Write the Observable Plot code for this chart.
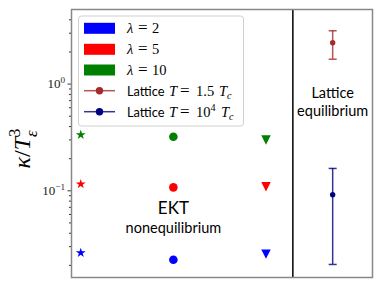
<!DOCTYPE html>
<html><head><meta charset="utf-8">
<script src="https://cdn.jsdelivr.net/npm/d3@7"></script>
<script src="https://cdn.jsdelivr.net/npm/@observablehq/plot@0.6"></script>
<style>
html,body{margin:0;padding:0;background:#fff;}
#chart{position:relative;width:382px;height:287px;}
</style></head><body><div id="chart"></div>
<script>
// ---- data ----
const lambdas = [2, 5, 10];
const lambdaColors = ["#0000ff", "#ff0000", "#008000"];
const markerColumns = [0, 1, 2];               // star, circle, triangle columns
const starValues = [0.0262, 0.1156, 0.335];
const circleValues = [0.0226, 0.1076, 0.321];
const triangleValues = [0.0255, 0.109, 0.299];

const latticeNames = ["T = 1.5 T_c", "T = 10^4 T_c"];
const latticeColors = ["#a52a2a", "#000080"];
const latticeX = 2.72;
const latticeCenter = [2.44, 0.0918];
const latticeLow = [1.71, 0.0204];
const latticeHigh = [3.16, 0.162];

const dividerX = 2.29;
const yMajorTicks = [0.1, 1];
const yTickLabels = ["10^-1", "10^0"];
const yMinorTicks = [0.02,0.03,0.04,0.05,0.06,0.07,0.08,0.09,0.2,0.3,0.4,0.5,0.6,0.7,0.8,0.9,2,3,4];

const ektLabels = ["EKT", "nonequilibrium"];
const ektLabelY = [0.0689, 0.0447];
const ektLabelX = 1.0;
const latLabels = ["Lattice", "equilibrium"];
const latLabelY = [0.823, 0.558];

// ---- tables ----
const stars = lambdas.map((l, i) => ({x: markerColumns[0], y: starValues[i], c: lambdaColors[i]}));
const circles = lambdas.map((l, i) => ({x: markerColumns[1], y: circleValues[i], c: lambdaColors[i]}));
const triangles = lambdas.map((l, i) => ({x: markerColumns[2], y: triangleValues[i], c: lambdaColors[i]}));
const lattice = latticeNames.map((n, i) => ({x: latticeX, y: latticeCenter[i], lo: latticeLow[i], hi: latticeHigh[i], c: latticeColors[i]}));
const caps = lattice.flatMap(d => [{x: d.x, y: d.lo, c: d.c}, {x: d.x, y: d.hi, c: d.c}]);

const triangleDown = {draw(ctx, size) { const k = Math.sqrt(size / Math.PI) * 1.1; ctx.moveTo(-k, -k); ctx.lineTo(k, -k); ctx.lineTo(0, k); ctx.closePath(); }};
const hline = {draw(ctx, size) { const k = Math.sqrt(size / Math.PI); ctx.moveTo(-k, 0); ctx.lineTo(k, 0); }};

const serif = "'Liberation Serif', 'DejaVu Serif', serif";
const sans = "Lato, 'DejaVu Sans', sans-serif";

const chart = Plot.plot({
  width: 382, height: 287,
  marginLeft: 71, marginRight: 10, marginTop: 9, marginBottom: 10,
  x: {domain: [-0.1, 3.15], axis: null},
  y: {type: "log", domain: [0.0154, 5.0], axis: null},
  style: {background: "white", color: "#222"},
  marks: [
    Plot.axisY(yMinorTicks, {tickSize: 2, tickFormat: () => "", stroke: "#333", label: null}),
    Plot.axisY(yMajorTicks, {tickSize: 3.5, tickPadding: 3, tickFormat: d => yTickLabels[yMajorTicks.indexOf(d)], fontSize: 13, fontFamily: serif, stroke: "#333", label: null}),
    Plot.ruleX([dividerX], {stroke: "black", strokeWidth: 1.5}),
    Plot.dot(stars, {x: "x", y: "y", fill: "c", symbol: "star", r: 3.1}),
    Plot.dot(circles, {x: "x", y: "y", fill: "c", r: 4.3}),
    Plot.dot(triangles, {x: "x", y: "y", fill: "c", symbol: triangleDown, r: 4.3}),
    Plot.ruleX(lattice, {x: "x", y1: "lo", y2: "hi", stroke: "c", strokeWidth: 1.5, strokeOpacity: 0.8}),
    Plot.dot(caps, {x: "x", y: "y", stroke: "c", fill: "none", symbol: hline, r: 4, strokeWidth: 1.5, strokeOpacity: 0.8}),
    Plot.dot(lattice, {x: "x", y: "y", fill: "c", r: 2.7}),
    Plot.text([ektLabels[0]], {x: () => ektLabelX, y: () => ektLabelY[0], text: d => d, fontSize: 17, fontFamily: sans, fill: "black"}),
    Plot.text([ektLabels[1]], {x: () => ektLabelX, y: () => ektLabelY[1], text: d => d, fontSize: 14.5, fontFamily: sans, fill: "black"}),
    Plot.text(latLabels, {x: () => latticeX, y: (d, i) => latLabelY[i], text: d => d, fontSize: 14.5, fontFamily: sans, fill: "black"}),
    Plot.text(["κ/T"], {frameAnchor: "left", textAnchor: "middle", dx: -49, dy: 5, rotate: -90, text: d => d, fontSize: 24, fontFamily: serif, fill: "black", className: "ylab"}),
    Plot.frame({stroke: "#888", strokeWidth: 1.5})
  ]
});
document.getElementById("chart").appendChild(chart);

// rich text helper
function rich(sel, parts, base) {
  let off = 0;
  for (const p of parts) {
    const size = (p.sup || p.sub) ? base * 0.7 : base;
    const target = p.sup ? -0.42 * base : p.sub ? (p.subOff || 0.25) * base : 0;
    const ts = sel.append("tspan").attr("dy", target - off).attr("font-size", p.size || size).text(p.t);
    off = target;
    if (p.italic) ts.attr("font-style", "italic");
    ts.attr("font-family", p.font || serif);
    if (p.dx) ts.attr("dx", p.dx);
    if (p.x != null) ts.attr("x", p.x);
  }
}

const svg = d3.select(chart.tagName.toLowerCase() === "svg" ? chart : chart.querySelector("svg"));

// y tick labels with superscripts
svg.selectAll("text").each(function() {
  const s = this.textContent;
  if (/^10\^/.test(s)) {
    const exp = s.split("^")[1].replace("-", "\u2212");
    const t = d3.select(this); t.text("").attr("fill", "#222").attr("stroke", "none");
    rich(t, [{t: "10"}, {t: exp, sup: true}], 13);
  }
});

// y label
const yl = svg.select(".ylab text");
yl.text("");
rich(yl, [{t: "κ", italic: true}, {t: "/"}, {t: "T", italic: true}, {t: "3", sup: true}, {t: "ε", sub: true, italic: true, subOff: 0.3, dx: -8.4}], 24);

// legend
const lg = svg.append("g").attr("class", "legend").attr("text-anchor", "start");
lg.append("rect").attr("x", 78.5).attr("y", 16).attr("width", 165).attr("height", 110).attr("rx", 3)
  .attr("fill", "white").attr("fill-opacity", 0.85).attr("stroke", "#d0d0d0");
const rowsY = [28.3, 49.3, 70, 90.7, 111.7];
const ms = 14.5; // math font size in legend
lambdas.forEach((l, i) => {
  const y = rowsY[i];
  lg.append("rect").attr("x", 84).attr("y", y - 5.5).attr("width", 31).attr("height", 11).attr("fill", lambdaColors[i]);
  const t = lg.append("text").attr("x", 127).attr("y", y + 5).attr("font-size", ms).attr("fill", "black").attr("text-anchor", "start");
  rich(t, [{t: "λ", italic: true, x: 127}, {t: "=", x: 138, size: 17}, {t: String(l), x: 152}], ms);
});
latticeNames.forEach((n, i) => {
  const y = rowsY[3 + i];
  lg.append("line").attr("x1", 84).attr("x2", 115).attr("y1", y).attr("y2", y).attr("stroke", latticeColors[i]).attr("stroke-width", 1.5).attr("stroke-opacity", 0.8);
  lg.append("circle").attr("cx", 99.5).attr("cy", y).attr("r", 3.7).attr("fill", latticeColors[i]);
  const t = lg.append("text").attr("x", 127).attr("y", y + 5).attr("font-size", ms).attr("fill", "black").attr("text-anchor", "start");
  const parts = [{t: "Lattice", font: sans, size: 12.8, x: 127}, {t: "T", italic: true, x: 169}, {t: "=", x: 180, size: 17}];
  if (i === 0) { parts.push({t: "1.5", x: 196}); parts.push({t: "T", italic: true, x: 219}); }
  else { parts.push({t: "10", x: 196}); parts.push({t: "4", sup: true}); parts.push({t: "T", italic: true, x: 221}); }
  parts.push({t: "c", sub: true, italic: true});
  rich(t, parts, ms);
});
</script></body></html>
